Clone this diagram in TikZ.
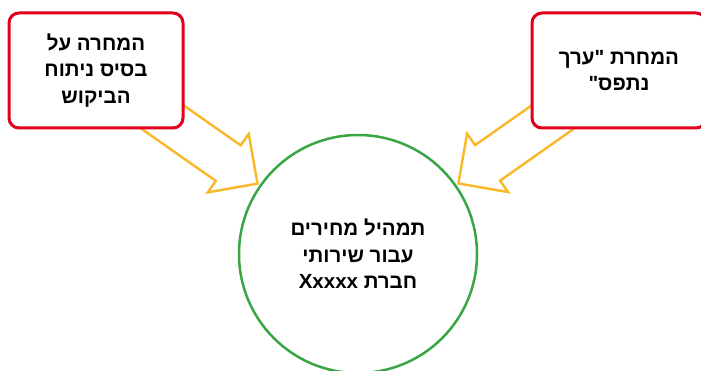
\documentclass[tikz,border=0pt]{standalone}
\usepackage{fontspec}
\newfontfamily\hebfont[Script=Hebrew, BoldFont={Liberation Sans Bold}]{Liberation Sans}
\TeXXeTstate=1
\usetikzlibrary{shapes.arrows, calc, backgrounds}
\definecolor{boxred}{RGB}{226,0,26}
\definecolor{arrowgold}{RGB}{248,184,40}
\definecolor{circgreen}{RGB}{57,166,68}

\begin{document}
\begin{tikzpicture}[x=1pt, y=-1pt,
    hebtext/.style={align=center, font={\hebfont\bfseries\fontsize{20.5}{26.5}\selectfont}},
    pricebox/.style={hebtext, draw=boxred, line width=3pt, fill=white, rounded corners=10pt,
      minimum width=174pt, minimum height=115pt},
    flowarrow/.style={single arrow, draw=arrowgold, line width=2.4pt, fill=white,
      inner xsep=0pt, inner ysep=20.5pt, single arrow head extend=14pt, minimum width=69pt}]
  \useasboundingbox (0,0) rectangle (701,371);
  % centre: the pricing process
  \node[hebtext, circle, draw=circgreen, line width=2.5pt, minimum size=238pt] (circ) at (358,254)
    {\beginR תמהיל מחירים\endR\\ \beginR עבור שירותי\endR\\ \beginR חברת \beginL Xxxxx\endL\endR};
  % two pricing methods
  \node[pricebox] (lbox) at (96,70.5)
    {\beginR המחרה על\endR\\ \beginR בסיס ניתוח\endR\\ \beginR הביקוש\endR};
  \node[pricebox] (rbox) at (619,70.5)
    {\beginR המחרת "ערך\endR\\ \beginR נתפס"\endR};
  % block arrows, tails hidden under the boxes
  \begin{pgfonlayer}{background}
    \foreach \src in {lbox, rbox}{
      \path let \p1 = ($(circ.center)-(\src.center)$), \n1 = {atan2(\y1,\x1)},
        \n2 = {veclen(\x1,\y1)-121} in
        node[flowarrow, rotate=\n1, anchor=tip, minimum height=\n2]
          at ($(circ.center)!121pt!(\src.center)$) {};
    }
  \end{pgfonlayer}
\end{tikzpicture}
\end{document}
